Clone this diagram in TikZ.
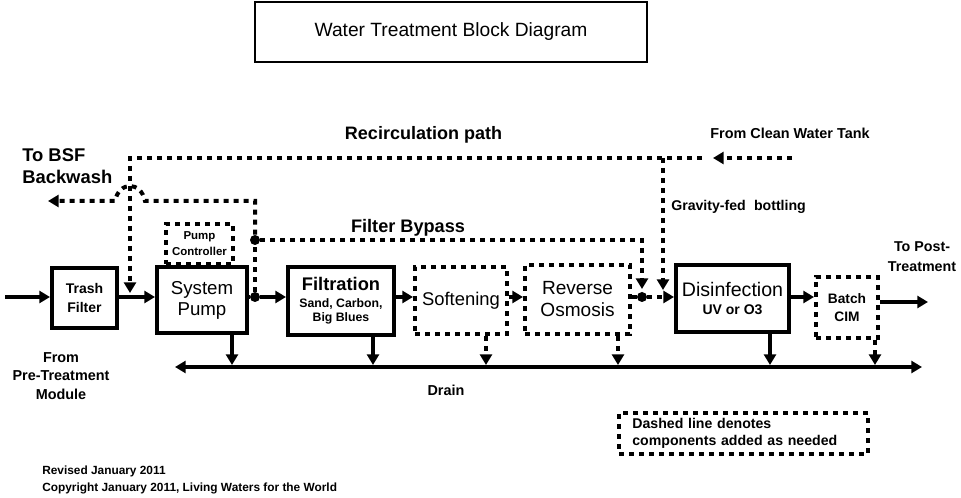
\documentclass[tikz,border=0pt]{standalone}
\usepackage{fontspec}
\setmainfont{Liberation Sans}
\usetikzlibrary{arrows.meta}
\newcommand\fsz[2]{\fontsize{#1}{#2}\selectfont}
\tikzset{
  wline/.style={line width=3pt},
  dline/.style={line width=3pt, dash pattern=on 3.75pt off 3.75pt},
  tip/.style={-{Triangle[length=8pt,width=9pt]}},
  bothtips/.style={{Triangle[length=8pt,width=9pt]}-{Triangle[length=8pt,width=9pt]}},
  solidbox/.style={draw, line width=3pt, align=center, inner sep=0pt},
  optbox/.style={draw, dline, align=center, inner sep=0pt},
  dotmark/.style={circle, fill, inner sep=0pt, minimum size=7.5pt},
  lbl/.style={inner sep=0pt, align=center},
}
\begin{document}
\begin{tikzpicture}[x=0.75pt, y=-0.75pt]
\useasboundingbox (0,0) rectangle (961,498);

% title
\node[solidbox, line width=2.2pt, minimum width=294pt, minimum height=45pt,
      font=\fsz{14.4}{17}] (title) at (451,32) {Water Treatment Block Diagram};

% process blocks
\node[solidbox, minimum width=48.75pt, minimum height=45pt,
      font=\bfseries\fsz{10.5}{13.5}] (trash) at (84.5,298) {Trash\\Filter};
\node[solidbox, minimum width=67.5pt, minimum height=49.5pt,
      font=\fsz{14}{15.75}] (pump) at (202,300) {System\\Pump};
\node[optbox, minimum width=50.25pt, minimum height=30pt,
      font=\bfseries\fsz{8.6}{12}] (ctrl) at (199.5,244) {Pump\\Controller};
\node[solidbox, minimum width=79.5pt, minimum height=51pt,
      font=\bfseries\fsz{9.2}{11}] (filt) at (341,301)
      {{\fsz{13.7}{16}Filtration}\\[1.5pt]Sand, Carbon,\\Big Blues};
\node[optbox, minimum width=69pt, minimum height=50.25pt,
      font=\fsz{13.8}{16}] (soft) at (461,300.5) {Softening};
\node[optbox, minimum width=78.75pt, minimum height=51.75pt,
      font=\fsz{14.3}{16.5}] (ro) at (577.5,299.5) {Reverse\\Osmosis};
\node[solidbox, minimum width=84.75pt, minimum height=50.25pt,
      font=\bfseries\fsz{10.5}{12}] (dis) at (732.5,298.5)
      {{\mdseries\fsz{14.7}{16}Disinfection}\\[1.5pt]UV or O3};
\node[optbox, minimum width=46.5pt, minimum height=45.75pt,
      font=\bfseries\fsz{10.3}{13.5}] (batch) at (847,307.5) {Batch\\CIM};

% legend
\node[draw, dline, minimum width=186.75pt, minimum height=30.75pt,
      inner xsep=10pt, inner ysep=0pt, text width=166.75pt, align=left,
      font=\bfseries\fsz{10.6}{12.6}] (note) at (743.5,433.5)
      {Dashed line denotes\\components added as needed};

% main flow
\coordinate (inlet) at (5,297);
\node[dotmark] (jp) at (255,297) {};
\node[dotmark] (jr) at (642,297) {};
\coordinate (outlet) at (928,302);
\draw[wline,tip] (inlet) -- (inlet -| trash.west);
\draw[wline,tip] (trash.east |- inlet) -- (pump.west |- inlet);
\draw[wline] (pump.east |- jp) -- (jp);
\draw[wline,tip] (jp) -- (filt.west |- jp);
\draw[wline,tip] (filt.east |- jp) -- (soft.west |- jp);
\draw[wline,tip] (soft.east |- jp) -- (ro.west |- jp);
\draw[wline] (ro.east |- jr) -- (jr);
\draw[dline,tip] (jr) -- (dis.west |- jr);
\draw[wline,tip] (dis.east |- jr) -- (batch.west |- jr);
\draw[wline,tip] (batch.east |- outlet) -- (outlet);

% drain header and drops
\coordinate (drainL) at (175,367);
\coordinate (drainR) at (922,367);
\draw[wline,bothtips] (drainL) -- (drainR);
\coordinate (dpump) at (232,365);
\coordinate (dfilt) at (373,365);
\coordinate (dsoft) at (486,365);
\coordinate (dro) at (618,365);
\coordinate (ddis) at (770,365);
\coordinate (dbatch) at (875,365);
\draw[wline,tip] (pump.south -| dpump) -- (dpump);
\draw[wline,tip] (filt.south -| dfilt) -- (dfilt);
\draw[dline,tip] (soft.south -| dsoft) -- (dsoft);
\draw[dline,tip] (ro.south -| dro) -- (dro);
\draw[wline,tip] (dis.south -| ddis) -- (ddis);
\draw[dline,tip] (batch.south -| dbatch) -- (dbatch);

% recirculation and clean water tank feed
\coordinate (cwt) at (792,158);
\coordinate (cwtip) at (713,158);
\coordinate (rc) at (702,158);
\coordinate (rcl) at (130,158);
\coordinate (rcin) at (130,293);
\coordinate (gtop) at (663,158);
\coordinate (gbot) at (663,290);
\draw[dline,tip] (cwt) -- (cwtip);
\draw[dline,tip] (rc) -- (rcl) -- (rcin);
\draw[dline,tip] (gtop) -- (gbot);

% backwash branch and filter bypass
\node[dotmark] (jb) at (255,240) {};
\coordinate (bsfc) at (255,201);
\coordinate (bsfend) at (48,201);
\coordinate (byc) at (642,240);
\coordinate (byend) at (642,289);
\draw[dline] (jp) -- (jb);
\draw[dline,tip] (jb) -- (bsfc) -- (145,201)
      .. controls (141,181) and (119,181) .. (115,201) -- (bsfend);
\draw[dline,tip] (jb) -- (byc) -- (byend);

% labels
\node[lbl, font=\bfseries\fsz{13.5}{16}] (recirc) at (423.5,135) {Recirculation path};
\node[lbl, anchor=west, align=left, font=\bfseries\fsz{13.8}{16.5}] (bsf) at (22,166) {To BSF\\Backwash};
\node[lbl, font=\bfseries\fsz{13.6}{16}] (bypass) at (408,228) {Filter Bypass};
\node[lbl, font=\bfseries\fsz{10.8}{13}] (cwlbl) at (790,133) {From Clean Water Tank};
\node[lbl, anchor=west, font=\bfseries\fsz{10.6}{13}] (grav) at (671,207) {Gravity-fed\hspace{0.3em} bottling};
\node[lbl, font=\bfseries\fsz{10.7}{15}] (post) at (922,257) {To Post-\\Treatment};
\node[lbl, font=\bfseries\fsz{10.8}{13.9}] (pre) at (61,376) {From\\Pre-Treatment\\Module};
\node[lbl, font=\bfseries\fsz{10.8}{13}] (drain) at (446,390) {Drain};
\node[lbl, anchor=west, align=left, font=\bfseries\fsz{8.9}{12.8}] (rev) at (42,479.5)
      {Revised January 2011\\Copyright January 2011, Living Waters for the World};
\end{tikzpicture}
\end{document}
